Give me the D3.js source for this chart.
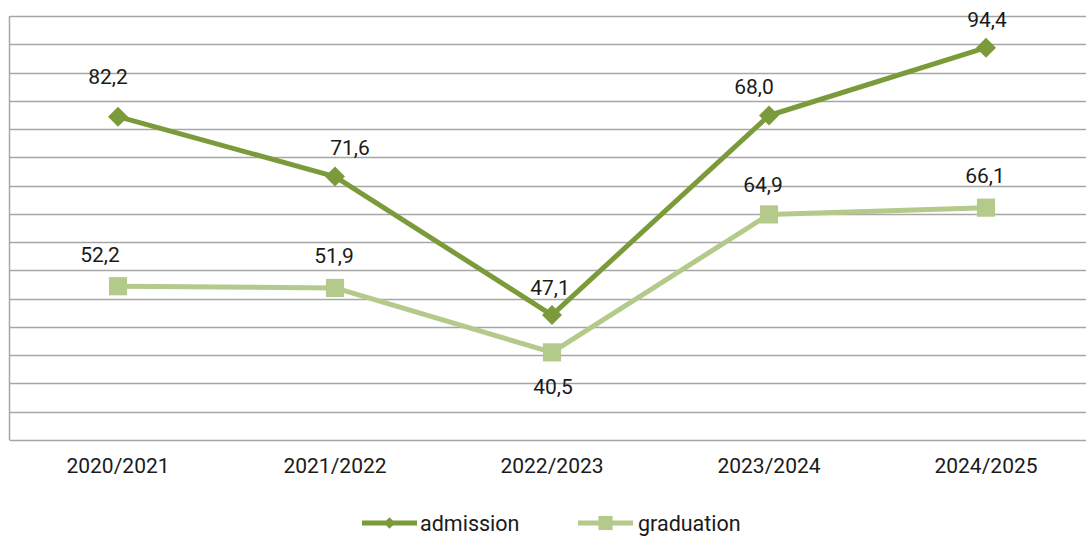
<!DOCTYPE html>
<html><head><meta charset="utf-8">
<script src="https://cdn.jsdelivr.net/npm/d3@7"></script>
<style>body{margin:0;background:#fff}svg{display:block;font-family:Roboto,"Noto Sans",sans-serif}</style>
</head><body><svg id="c" width="1086" height="536"></svg>
<script>
const categories = ["2020/2021","2021/2022","2022/2023","2023/2024","2024/2025"];
const admission = [82.2, 71.6, 47.1, 82.4, 94.4];
const admissionLabels = ["82,2","71,6","47,1","68,0","94,4"];
const graduation = [52.2, 51.9, 40.5, 64.9, 66.1];
const graduationLabels = ["52,2","51,9","40,5","64,9","66,1"];
const yTicks = d3.range(25, 101, 5);

const svg = d3.select("#c");
const m = {l: 9.5, t: 16, r: -8.5, b: 96};
const W = 1086, H = 536;
const FS = 21;
const TXT = "#1a1a1a";
const x = d3.scaleBand().domain(categories).range([m.l, W - m.r]);
const y = d3.scaleLinear().domain([25, 100]).range([H - m.b, m.t]);
const cx = c => x(c) + x.bandwidth() / 2;

svg.append("g").selectAll("line").data(yTicks).join("line")
  .attr("x1", m.l).attr("x2", W - m.r)
  .attr("y1", d => Math.round(y(d)) + 0.5).attr("y2", d => Math.round(y(d)) + 0.5)
  .attr("stroke", "#a6a6a6").attr("stroke-width", 1.5);
svg.append("line").attr("x1", m.l).attr("x2", m.l).attr("y1", y(100)).attr("y2", y(25))
  .attr("stroke", "#a6a6a6").attr("stroke-width", 1.5);

const xa = svg.append("g").attr("transform", `translate(0,${y(25)})`)
  .call(d3.axisBottom(x).tickSize(0).tickPadding(18));
xa.select(".domain").remove();
xa.selectAll("text").attr("font-size", FS).attr("fill", TXT).attr("font-family", "Roboto");

const series = [
  {name: "admission", vals: admission, labels: admissionLabels, color: "#7b9b3b", rot: 45, size: 200, lsize: 64,
   nudge: [[-10,-40],[15,-29],[-2,-27],[-15,-29],[1,-28]]},
  {name: "graduation", vals: graduation, labels: graduationLabels, color: "#b3ca8b", rot: 0, size: 330, lsize: 200,
   nudge: [[-18,-32],[-1,-32],[1,34],[-6,-30],[-1,-32]]}
];

const line = d3.line().x((d, i) => cx(categories[i])).y(d => y(d));
[series[1], series[0]].forEach(s => {
  const g = svg.append("g");
  g.append("path").datum(s.vals).attr("d", line).attr("fill", "none")
    .attr("stroke", s.color).attr("stroke-width", 5).attr("stroke-linejoin", "round");
  g.selectAll("path.m").data(s.vals).join("path").attr("class", "m")
    .attr("transform", (d, i) => `translate(${cx(categories[i])},${y(d)}) rotate(${s.rot})`)
    .attr("d", d3.symbol().type(d3.symbolSquare).size(s.size)).attr("fill", s.color);
  g.selectAll("text").data(s.vals).join("text")
    .attr("x", (d, i) => cx(categories[i]) + s.nudge[i][0])
    .attr("y", (d, i) => y(d) + s.nudge[i][1])
    .attr("dy", "0.35em").attr("text-anchor", "middle")
    .attr("font-size", FS).attr("fill", TXT)
    .text((d, i) => s.labels[i]);
});

const legendItems = [{s: series[0], x: 362, tx: 420}, {s: series[1], x: 578, tx: 638}];
const ly = 523;
legendItems.forEach(li => {
  const g = svg.append("g");
  g.append("line").attr("x1", li.x).attr("x2", li.x + 55).attr("y1", ly).attr("y2", ly)
    .attr("stroke", li.s.color).attr("stroke-width", 5);
  g.append("path").attr("transform", `translate(${li.x + 27.5},${ly}) rotate(${li.s.rot})`)
    .attr("d", d3.symbol().type(d3.symbolSquare).size(li.s.lsize)).attr("fill", li.s.color);
  g.append("text").attr("x", li.tx).attr("y", ly).attr("dy", "0.35em")
    .attr("font-size", 21.5).attr("fill", TXT).text(li.s.name);
});
</script></body></html>
